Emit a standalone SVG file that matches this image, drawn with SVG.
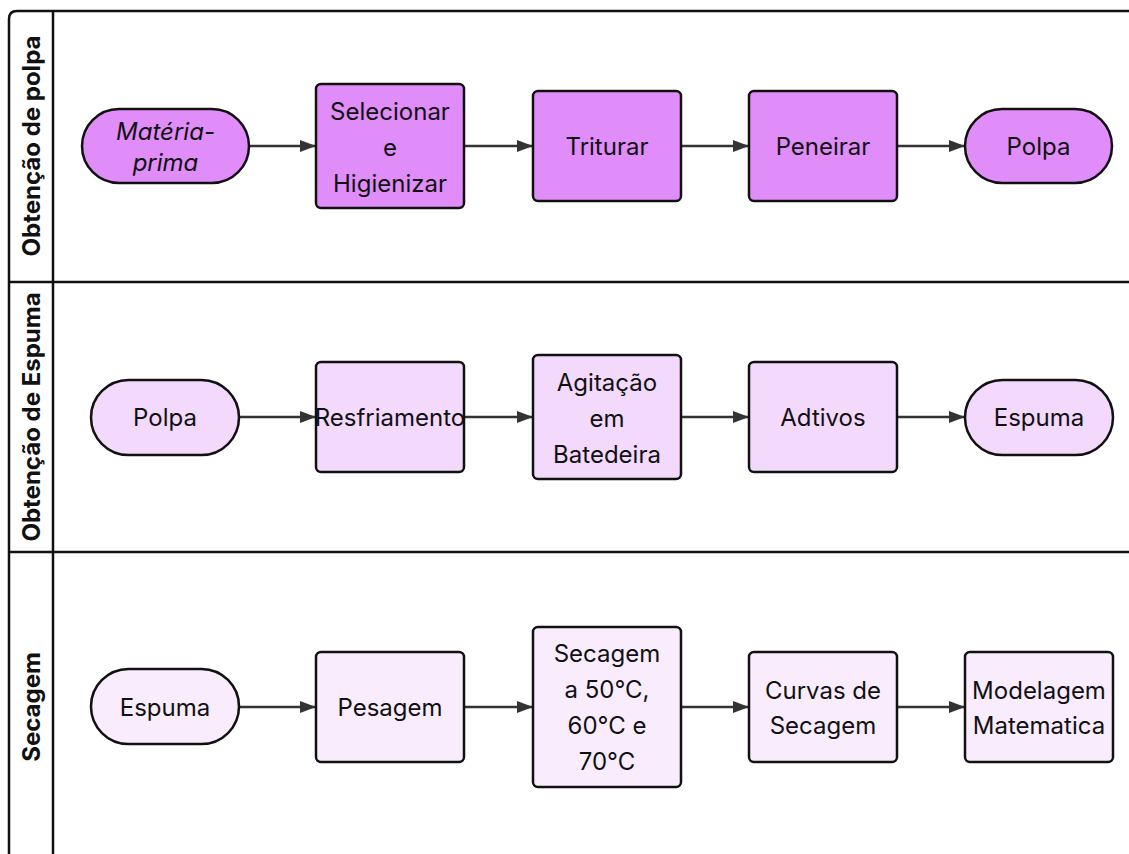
<svg xmlns="http://www.w3.org/2000/svg" width="1129" height="854" viewBox="0 0 1129 854">
<defs>
<marker id="arr" viewBox="0 0 16 12" refX="16" refY="6" markerWidth="16" markerHeight="12" markerUnits="userSpaceOnUse" orient="auto">
<path d="M0,0 L16,6 L0,12 z" fill="#333"/>
</marker>
<style>
.lane{fill:none;stroke:#111;stroke-width:2.5}
.lt{font-family:Inter,"Liberation Sans",sans-serif;font-weight:bold;font-size:24px;fill:#111;text-anchor:middle;dominant-baseline:central}
.t{font-family:Inter,"Liberation Sans",sans-serif;font-size:24px;fill:#111;text-anchor:middle;dominant-baseline:central}
.n{stroke:#111;stroke-width:2.5}
.c1{fill:#e08cf9}
.c2{fill:#f3d9fc}
.c3{fill:#f9ecfd}
.e{stroke:#333;stroke-width:2.5;fill:none;marker-end:url(#arr)}
</style>
</defs>
<rect width="1129" height="854" fill="#fff"/>
<g id="lanes">
<path class="lane" d="M1129,11 H17 Q9,11 9,19 V860"/>
<line class="lane" x1="53" y1="11" x2="53" y2="860"/>
<line class="lane" x1="9" y1="282" x2="1129" y2="282"/>
<line class="lane" x1="9" y1="552" x2="1129" y2="552"/>
<text class="lt" transform="translate(31,146) rotate(-90)">Obtenção de polpa</text>
<text class="lt" transform="translate(31,417) rotate(-90)">Obtenção de Espuma</text>
<text class="lt" transform="translate(31,707) rotate(-90)">Secagem</text>
</g>
<g id="connectors">
<line class="e" x1="249" y1="146" x2="316" y2="146"/>
<line class="e" x1="464" y1="146" x2="533" y2="146"/>
<line class="e" x1="681" y1="146" x2="749" y2="146"/>
<line class="e" x1="897" y1="146" x2="965" y2="146"/>
<line class="e" x1="239" y1="417" x2="316" y2="417"/>
<line class="e" x1="464" y1="417" x2="533" y2="417"/>
<line class="e" x1="681" y1="417" x2="749" y2="417"/>
<line class="e" x1="897" y1="417" x2="965" y2="417"/>
<line class="e" x1="239" y1="707" x2="316" y2="707"/>
<line class="e" x1="464" y1="707" x2="533" y2="707"/>
<line class="e" x1="681" y1="707" x2="749" y2="707"/>
<line class="e" x1="897" y1="707" x2="965" y2="707"/>
</g>
<g id="materia-prima">
<rect class="n c1" x="82" y="109" width="167" height="74" rx="37"/>
<text class="t" x="165.5" y="131" font-style="italic">Matéria-</text>
<text class="t" x="165.5" y="162" font-style="italic">prima</text>
</g>
<g id="selecionar">
<rect class="n c1" x="316" y="84" width="148" height="124" rx="5"/>
<text class="t" x="390" y="111">Selecionar</text>
<text class="t" x="390" y="147">e</text>
<text class="t" x="390" y="183">Higienizar</text>
</g>
<g id="triturar">
<rect class="n c1" x="533" y="91" width="148" height="110" rx="5"/>
<text class="t" x="607" y="146">Triturar</text>
</g>
<g id="peneirar">
<rect class="n c1" x="749" y="91" width="148" height="110" rx="5"/>
<text class="t" x="823" y="146">Peneirar</text>
</g>
<g id="polpa1">
<rect class="n c1" x="965" y="109" width="147" height="74" rx="37"/>
<text class="t" x="1038.5" y="146">Polpa</text>
</g>
<g id="polpa2">
<rect class="n c2" x="91" y="380" width="148" height="75" rx="37.5"/>
<text class="t" x="165" y="417">Polpa</text>
</g>
<g id="resfriamento">
<rect class="n c2" x="316" y="362" width="148" height="110" rx="5"/>
<text class="t" x="390" y="417">Resfriamento</text>
</g>
<g id="agitacao">
<rect class="n c2" x="533" y="355" width="148" height="124" rx="5"/>
<text class="t" x="607" y="382">Agitação</text>
<text class="t" x="607" y="418">em</text>
<text class="t" x="607" y="454">Batedeira</text>
</g>
<g id="adtivos">
<rect class="n c2" x="749" y="362" width="148" height="110" rx="5"/>
<text class="t" x="823" y="417">Adtivos</text>
</g>
<g id="espuma1">
<rect class="n c2" x="965" y="380" width="148" height="75" rx="37.5"/>
<text class="t" x="1039" y="417">Espuma</text>
</g>
<g id="espuma2">
<rect class="n c3" x="91" y="669" width="148" height="75" rx="37.5"/>
<text class="t" x="165" y="707">Espuma</text>
</g>
<g id="pesagem">
<rect class="n c3" x="316" y="652" width="148" height="110" rx="5"/>
<text class="t" x="390" y="707">Pesagem</text>
</g>
<g id="secagem">
<rect class="n c3" x="533" y="627" width="148" height="160" rx="5"/>
<text class="t" x="607" y="653">Secagem</text>
<text class="t" x="607" y="689">a 50°C,</text>
<text class="t" x="607" y="725">60°C e</text>
<text class="t" x="607" y="761">70°C</text>
</g>
<g id="curvas">
<rect class="n c3" x="749" y="652" width="148" height="110" rx="5"/>
<text class="t" x="823" y="690">Curvas de</text>
<text class="t" x="823" y="725">Secagem</text>
</g>
<g id="modelagem">
<rect class="n c3" x="965" y="652" width="148" height="110" rx="5"/>
<text class="t" x="1039" y="690">Modelagem</text>
<text class="t" x="1039" y="725">Matematica</text>
</g>
</svg>
